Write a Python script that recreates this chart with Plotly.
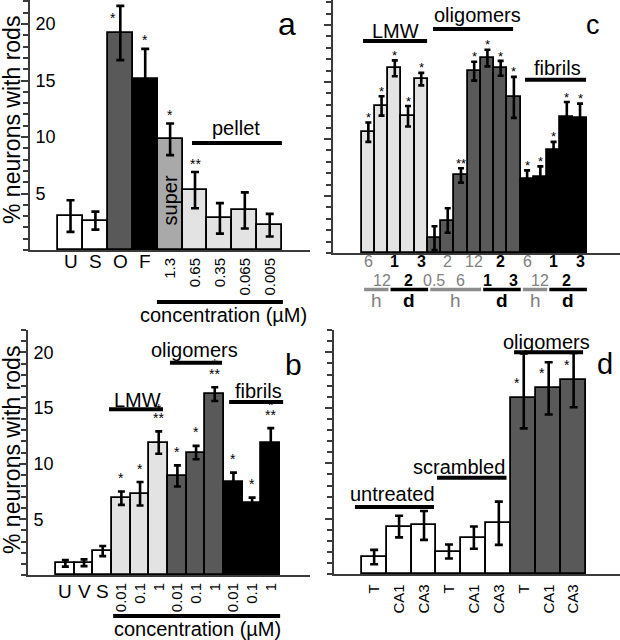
import plotly.graph_objects as go

W, H = 620, 640
AX = "#3a3a3a"
FONT = "Arial, Liberation Sans, Helvetica, sans-serif"

# ---------------- data ----------------
# panel a
a_labels = ["U", "S", "O", "F", "1.3", "0.65", "0.35", "0.065", "0.005"]
a_kind = ["none", "none", "oligomer", "fibril", "super", "pellet", "pellet", "pellet", "pellet"]
a_vals = [3.0, 2.6, 19.2, 15.1, 9.8, 5.3, 2.8, 3.5, 2.2]
a_err = [1.4, 0.8, 2.4, 2.7, 1.4, 1.6, 1.35, 1.6, 1.0]
a_stars = ["", "", "*", "*", "*", "**", "", "", ""]

# panel b
b_labels = ["U", "V", "S", "0.01", "0.1", "1", "0.01", "0.1", "1", "0.01", "0.1", "1"]
b_kind = ["none", "none", "none", "LMW", "LMW", "LMW", "oligomer", "oligomer", "oligomer",
          "fibril", "fibril", "fibril"]
b_vals = [1.05, 1.1, 2.15, 6.9, 7.3, 11.9, 8.9, 11.0, 16.25, 8.4, 6.5, 11.9]
b_err = [0.3, 0.3, 0.45, 0.6, 1.05, 1.0, 0.95, 0.6, 0.62, 0.8, 0.45, 1.3]
b_stars = ["", "", "", "*", "*", "*|**", "*", "*", "*|**", "*", "*", "*|**"]

# panel c
c_time = ["6", "12", "1", "2", "3", "0.5", "2", "6", "12", "1", "2", "3", "6", "12", "1", "2", "3"]
c_unit = ["h", "h", "d", "d", "d", "h", "h", "h", "h", "d", "d", "d", "h", "h", "d", "d", "d"]
c_kind = ["LMW"] * 5 + ["oligomer"] * 7 + ["fibril"] * 5
c_vals = [10.6, 12.9, 16.2, 12.0, 15.25, 1.3, 2.85, 6.8, 15.95, 17.1, 16.2, 13.65,
          6.45, 6.65, 9.0, 11.95, 11.85]
c_err = [0.85, 0.85, 0.7, 0.9, 0.55, 1.05, 1.07, 0.63, 0.83, 0.73, 0.65, 1.8,
         0.8, 0.95, 0.75, 1.3, 1.25]
c_stars = ["*"] * 5 + ["", "", "**", "*", "*", "*", "*"] + ["*"] * 5

# panel d
d_labels = ["T", "CA1", "CA3", "T", "CA1", "CA3", "T", "CA1", "CA3"]
d_kind = ["none"] * 6 + ["oligomer"] * 3
d_vals = [1.55, 4.3, 4.4, 2.05, 3.3, 4.6, 15.85, 16.75, 17.5]
d_err_plus = [0.65, 0.97, 1.3, 0.63, 1.0, 1.95, 4.05, 2.35, 2.45]
d_err_minus = [0.65, 0.97, 1.3, 0.63, 1.0, 1.95, 2.7, 2.35, 2.45]
d_stars = [""] * 6 + ["*", "*", "*"]

KIND_COLOR = {"none": "#ffffff", "LMW": "#e3e3e3", "pellet": "#e3e3e3", "super": "#a9a9a9",
              "oligomer": "#595959", "fibril": "#000000"}


def py(ypix):
    return 1 - ypix / H


def px(xpix):
    return xpix / W


fig = go.Figure()


def add_bars(x_ref, y_ref, vals, kinds, ep, em=None, cap=4):
    xs = list(range(len(vals)))
    err = dict(type="data", array=ep, color="black", thickness=2.6, width=cap, visible=True)
    if em is not None:
        err["symmetric"] = False
        err["arrayminus"] = em
    fig.add_trace(go.Bar(
        x=xs, y=vals, xaxis=x_ref, yaxis=y_ref, width=1.0,
        marker=dict(color=[KIND_COLOR[k] for k in kinds], line=dict(color="black", width=1.8)),
        error_y=err, showlegend=False, hoverinfo="skip"))


add_bars("x", "y", a_vals, a_kind, a_err, cap=4)
add_bars("x2", "y2", c_vals, c_kind, c_err, cap=3)
add_bars("x3", "y3", b_vals, b_kind, b_err, cap=3.5)
add_bars("x4", "y4", d_vals, d_kind, d_err_plus, d_err_minus, cap=4)


def yaxis(domain, top, anchor, labels):
    return dict(domain=domain, range=[0, top], anchor=anchor, showline=True, linecolor=AX,
                linewidth=2, showgrid=False, zeroline=False, tickmode="array",
                tickvals=[5, 10, 15, 20], ticktext=["5", "10", "15", "20"],
                ticks="outside", ticklen=7, tickwidth=2, tickcolor=AX,
                showticklabels=labels, ticklabelposition="inside", ticklabelstandoff=6,
                tickfont=dict(size=18, color="black", family=FONT),
                minor=dict(dtick=1, tick0=0, ticks="outside", ticklen=5, tickwidth=1.5,
                           tickcolor=AX),
                fixedrange=True)


def xaxis(domain, rng, anchor, tickvals=None, ticktext=None, size=15, standoff=4):
    d = dict(domain=domain, range=rng, anchor=anchor, showline=True, linecolor=AX, linewidth=2,
             showgrid=False, zeroline=False, ticks="", fixedrange=True)
    if tickvals is None:
        d["showticklabels"] = False
    else:
        d.update(tickmode="array", tickvals=tickvals, ticktext=ticktext, tickangle=-90,
                 tickfont=dict(size=size, color="black", family=FONT), ticklabelstandoff=standoff)
    return d


fig.update_layout(
    width=W, height=H, margin=dict(l=0, r=0, t=0, b=0),
    paper_bgcolor="white", plot_bgcolor="white", bargap=0, showlegend=False,
    font=dict(family=FONT, color="black"),
    xaxis=xaxis([px(30), px(310)], [-1.627, 9.618], "y",
                list(range(4, 9)), a_labels[4:], 15, 0),
    yaxis=yaxis([py(250), 1.0], 250 / 11.3, "x", True),
    xaxis2=xaxis([px(333), 1.0], [-2.67, 19.02], "y2"),
    yaxis2=yaxis([py(253), 1.0], 253 / 11.4, "x2", False),
    xaxis3=xaxis([px(28), px(310)], [-2.0, 13.1], "y3",
                 list(range(3, 12)), b_labels[3:], 15, 0),
    yaxis3=yaxis([py(575), py(330)], 245 / 11.13, "x3", True),
    xaxis4=xaxis([px(334), 1.0], [-1.61, 9.86], "y4",
                 list(range(len(d_labels))), d_labels, 15, 2),
    yaxis4=yaxis([py(574.3), py(330)], 244.3 / 11.1, "x4", False),
)

anns = []
shapes = []


def txt(text, x, y, xref="paper", yref="paper", size=20, color="black", angle=0,
        xanchor="center", yanchor="middle", xshift=0, yshift=0):
    anns.append(dict(text=text, x=x, y=y, xref=xref, yref=yref, showarrow=False,
                     font=dict(size=size, color=color, family=FONT), textangle=angle,
                     xanchor=xanchor, yanchor=yanchor, xshift=xshift, yshift=yshift))


def line(x0, x1, y0, xref, yref, width=4, color="black"):
    shapes.append(dict(type="line", x0=x0, x1=x1, y0=y0, y1=y0, xref=xref, yref=yref,
                       line=dict(color=color, width=width), layer="above"))


def stars(xref, yref, vals, errs, marks, above_px, size=14, top=None):
    for i, (v, e, m) in enumerate(zip(vals, errs, marks)):
        if not m:
            continue
        parts = m.split("|")
        beside = top is not None and v + e > top
        if beside:
            txt(parts[0], i, v, xref, yref, size=size, xshift=-7, yshift=15)
            continue
        n = len(parts)
        for k, p in enumerate(parts):
            shift = above_px - 2.6 + (n - 1 - k) * 9.5
            txt(p, i, v + e, xref, yref, size=size, yshift=shift)


# ---------- panel a ----------
txt("% neurons with rods", px(12), py(120), size=23, angle=-90)
txt("% neurons with rods", px(12), py(450), size=23, angle=-90)
for i in range(4):
    txt(a_labels[i], i, py(250), "x", "paper", size=19, yanchor="top", yshift=1)
stars("x", "y", a_vals, a_err, a_stars, 11, top=21.0)
txt("super", 4, 4.4, "x", "y", size=20, angle=-90)
line(4.88, 8.49, 9.47, "x", "y")
txt("pellet", 6.65, 10.8, "x", "y", size=20)
line(3.47, 8.53, py(302), "x", "paper")
txt("concentration (µM)", px(223), py(315), size=20)
txt("a", px(287), py(24), size=32)

# ---------- panel b ----------
for i in range(3):
    txt(b_labels[i], i, py(575), "x3", "paper", size=19, yanchor="top", yshift=-4)
stars("x3", "y3", b_vals, b_err, b_stars, 16)
line(2.34, 5.23, 14.9, "x3", "y3")
txt("LMW", 3.84, 15.75, "x3", "y3", size=20)
line(5.6, 8.39, 19.07, "x3", "y3")
txt("oligomers", 6.94, 20.25, "x3", "y3", size=20)
line(8.77, 11.66, 15.54, "x3", "y3")
txt("fibrils", 10.32, 16.5, "x3", "y3", size=20)
line(2.56, 11.5, py(616), "x3", "paper")
txt("concentration (µM)", px(197), py(629), size=20)
txt("b", px(293), py(364), size=30)

# ---------- panel c ----------
stars("x2", "y2", c_vals, c_err, c_stars, 7.5, size=13)
line(-0.4, 4.44, 18.6, "x2", "y2")
txt("LMW", 2.09, 19.45, "x2", "y2", size=20)
line(4.89, 10.94, 19.65, "x2", "y2")
txt("oligomers", 8.22, 20.9, "x2", "y2", size=20)
line(11.84, 16.45, 15.2, "x2", "y2")
txt("fibrils", 14.26, 16.2, "x2", "y2", size=20)
txt("c", px(593), py(25), size=27)
for i, (t, u) in enumerate(zip(c_time, c_unit)):
    row_y = py(261.5) if i % 2 == 0 else py(280)
    if u == "h":
        txt(t, i, row_y, "x2", "paper", size=16, color="#7f7f7f")
    else:
        txt("<b>" + t + "</b>", i, row_y, "x2", "paper", size=16)
# runs of hours/days
runs = []
start = 0
for i in range(1, len(c_unit) + 1):
    if i == len(c_unit) or c_unit[i] != c_unit[start] or c_kind[i] != c_kind[start]:
        runs.append((start, i - 1, c_unit[start]))
        start = i
for f, l, u in runs:
    col = "#8c8c8c" if u == "h" else "black"
    x0, x1 = f - 0.32, l + 0.52
    line(x0, x1, py(289.5), "x2", "paper", width=3.5, color=col)
    if u == "h":
        txt(u, (x0 + x1) / 2, py(300), "x2", "paper", size=19, color="#7f7f7f")
    else:
        txt("<b>d</b>", (x0 + x1) / 2, py(300), "x2", "paper", size=19)

# ---------- panel d ----------
for i, (v, m) in enumerate(zip(d_vals, d_stars)):
    if m:
        txt(m, i, v, "x4", "y4", size=14, xshift=-7, yshift=15)
line(-0.77, 2.4, 6.06, "x4", "y4")
txt("untreated", 0.75, 7.2, "x4", "y4", size=20)
line(2.52, 5.31, 8.7, "x4", "y4")
txt("scrambled", 3.4, 9.7, "x4", "y4", size=20)
line(5.61, 8.38, 20.0, "x4", "y4")
txt("oligomers", 6.92, 20.95, "x4", "y4", size=20)
txt("d", px(605), py(364), size=29)

fig.update_layout(annotations=anns, shapes=shapes)
fig.write_html("out.html", config={"displayModeBar": False},
               post_script="document.body.style.margin='0px';")
